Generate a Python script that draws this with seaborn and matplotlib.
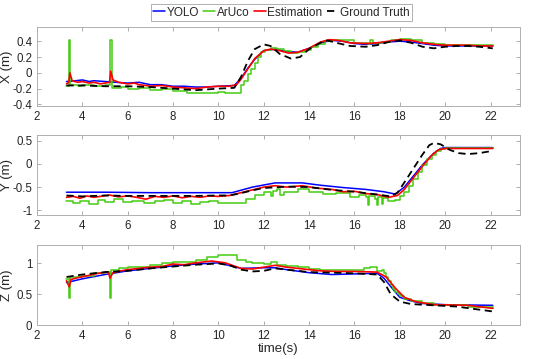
import matplotlib
matplotlib.use("Agg")
import matplotlib.pyplot as plt
import pandas as pd
import seaborn as sns
import numpy as np

# ---- X position (m) ----
x_gt_t = [3.3, 4.0, 5.0, 6.0, 7.0, 8.0, 8.5, 9.0, 9.5, 10.0, 10.7, 11.0, 11.3, 11.6, 12.0, 12.3, 12.7,
          13.2, 13.6, 14.0, 14.5, 14.8, 15.2, 15.8, 16.5, 17.0, 17.5, 18.0, 18.5, 19.0, 19.5, 20.0,
          20.5, 21.0, 21.5, 22.1]
x_gt = [-0.16, -0.16, -0.17, -0.17, -0.18, -0.2, -0.21, -0.22, -0.21, -0.2, -0.19, -0.05, 0.15, 0.3,
        0.36, 0.34, 0.24, 0.18, 0.2, 0.3, 0.38, 0.41, 0.38, 0.34, 0.33, 0.35, 0.39, 0.41, 0.38, 0.33,
        0.31, 0.33, 0.34, 0.34, 0.33, 0.31]

x_est_t = [3.3, 3.4, 3.45, 3.55, 3.8, 4.0, 4.3, 4.5, 4.8, 5.0, 5.2, 5.25, 5.35, 5.6, 6.0, 6.3, 6.5, 6.8,
           7.0, 7.5, 8.0, 8.5, 9.0, 9.5, 10.0, 10.5, 10.8, 11.0, 11.3, 11.6, 12.0, 12.3, 12.7, 13.1,
           13.5, 14.0, 14.5, 14.9, 15.3, 15.8, 16.5, 17.0, 17.5, 18.0, 18.5, 19.0, 19.5, 20.0, 20.5,
           21.0, 21.5, 22.1]
x_est = [-0.14, -0.12, 0.0, -0.1, -0.12, -0.11, -0.13, -0.12, -0.14, -0.13, -0.12, 0.02, -0.09, -0.12,
         -0.14, -0.13, -0.15, -0.16, -0.17, -0.16, -0.18, -0.19, -0.2, -0.18, -0.17, -0.17, -0.15,
         -0.08, 0.05, 0.18, 0.28, 0.3, 0.28, 0.25, 0.26, 0.31, 0.39, 0.42, 0.41, 0.38, 0.37, 0.38,
         0.4, 0.42, 0.41, 0.38, 0.36, 0.35, 0.35, 0.35, 0.34, 0.34]

x_yolo_t = [3.3, 3.7, 4.0, 4.3, 4.5, 5.0, 5.5, 6.0, 6.5, 7.0, 7.5, 8.0, 8.5, 9.0, 9.5, 10.0, 10.7, 11.0,
            11.3, 11.6, 12.0, 12.5, 13.0, 13.5, 14.0, 14.5, 15.0, 15.5, 16.0, 16.5, 17.0, 17.5, 18.0,
            18.5, 19.0, 19.5, 20.0, 21.0, 22.1]
x_yolo = [-0.11, -0.1, -0.09, -0.11, -0.1, -0.11, -0.12, -0.13, -0.12, -0.15, -0.15, -0.17, -0.17,
          -0.18, -0.18, -0.17, -0.16, -0.07, 0.06, 0.17, 0.28, 0.3, 0.27, 0.26, 0.31, 0.38, 0.41, 0.4,
          0.37, 0.36, 0.37, 0.39, 0.4, 0.39, 0.37, 0.35, 0.34, 0.34, 0.34]

x_aruco_t = [3.3, 3.42, 3.47, 3.8, 4.0, 4.5, 5.0, 5.2, 5.3, 5.7, 6.0, 6.5, 7.0, 7.5, 8.0, 8.6, 9.0,
             9.5, 10.0, 10.3, 10.8, 11.0, 11.15, 11.3, 11.45, 11.6, 11.75, 11.9, 12.05, 12.3, 12.6,
             12.9, 13.2, 13.5, 13.8, 14.1, 14.4, 14.7, 15.0, 15.5, 16.0, 16.6, 16.7, 16.8, 17.2, 17.6,
             18.0, 18.5, 19.0, 19.5, 20.0, 21.0, 22.1]
x_aruco = [-0.17, 0.42, -0.15, -0.17, -0.16, -0.17, -0.16, 0.42, -0.19, -0.18, -0.2, -0.19, -0.22,
           -0.21, -0.23, -0.26, -0.25, -0.26, -0.24, -0.25, -0.25, -0.15, -0.1, -0.02, 0.05, 0.12,
           0.2, 0.26, 0.29, 0.31, 0.3, 0.27, 0.25, 0.26, 0.29, 0.33, 0.37, 0.4, 0.42, 0.41, 0.38,
           0.37, 0.41, 0.38, 0.39, 0.41, 0.43, 0.41, 0.38, 0.36, 0.35, 0.35, 0.34]

# ---- Y position (m) ----
y_gt_t = [3.3, 4.0, 5.0, 6.0, 7.0, 8.0, 9.0, 10.0, 10.5, 11.0, 11.5, 12.0, 13.0, 14.0, 15.0, 16.0,
          17.0, 17.6, 17.9, 18.2, 18.6, 19.0, 19.3, 19.5, 19.8, 20.2, 20.6, 21.0, 21.5, 22.1]
y_gt = [-0.68, -0.7, -0.68, -0.69, -0.69, -0.69, -0.69, -0.68, -0.68, -0.63, -0.57, -0.52, -0.49,
        -0.5, -0.56, -0.6, -0.66, -0.7, -0.62, -0.4, -0.1, 0.2, 0.4, 0.45, 0.42, 0.3, 0.23, 0.21,
        0.23, 0.28]

y_est_t = [3.3, 3.6, 3.9, 4.2, 4.5, 4.8, 5.2, 5.6, 6.0, 6.4, 6.8, 7.2, 7.6, 8.0, 8.4, 8.8, 9.2, 9.6,
           10.0, 10.5, 11.0, 11.5, 12.0, 12.5, 13.0, 13.7, 14.3, 15.0, 15.5, 16.0, 16.5, 17.0, 17.5,
           17.9, 18.2, 18.6, 19.0, 19.4, 19.7, 20.0, 21.0, 22.1]
y_est = [-0.72, -0.7, -0.74, -0.69, -0.72, -0.7, -0.67, -0.71, -0.69, -0.72, -0.76, -0.7, -0.72,
         -0.69, -0.73, -0.7, -0.72, -0.69, -0.7, -0.68, -0.62, -0.56, -0.5, -0.47, -0.5, -0.47,
         -0.52, -0.55, -0.6, -0.59, -0.64, -0.66, -0.72, -0.68, -0.55, -0.3, -0.05, 0.18, 0.3, 0.33,
         0.33, 0.33]

y_yolo_t = [3.3, 5.0, 7.0, 9.0, 10.6, 11.5, 12.5, 13.7, 14.5, 15.5, 16.5, 17.3, 17.8, 18.2, 18.5,
            19.0, 19.5, 19.8, 20.0, 22.1]
y_yolo = [-0.61, -0.61, -0.62, -0.62, -0.62, -0.5, -0.41, -0.41, -0.46, -0.51, -0.55, -0.6, -0.65,
          -0.5, -0.32, -0.02, 0.23, 0.33, 0.35, 0.35]

y_aruco_t = [3.3, 3.6, 3.9, 4.3, 4.7, 5.0, 5.4, 5.8, 6.2, 6.7, 7.2, 7.6, 8.0, 8.4, 8.8, 9.2, 9.6,
             10.0, 10.4, 10.8, 11.2, 11.6, 12.0, 12.3, 12.4, 12.6, 12.7, 12.9, 13.5, 14.0, 14.6,
             15.2, 15.8, 16.2, 16.5, 16.6, 16.65, 16.9, 17.0, 17.05, 17.2, 17.25, 17.5, 17.8, 18.0,
             18.2, 18.4, 18.6, 18.8, 19.0, 19.2, 19.4, 19.6, 19.8, 20.0, 22.1]
y_aruco = [-0.8, -0.85, -0.8, -0.86, -0.78, -0.82, -0.76, -0.83, -0.8, -0.84, -0.8, -0.78, -0.84,
           -0.8, -0.86, -0.82, -0.8, -0.85, -0.84, -0.85, -0.75, -0.68, -0.6, -0.7, -0.58, -0.55,
           -0.68, -0.6, -0.55, -0.6, -0.65, -0.62, -0.72, -0.68, -0.72, -0.88, -0.7, -0.75, -0.88,
           -0.72, -0.86, -0.74, -0.8, -0.78, -0.7, -0.6, -0.48, -0.33, -0.18, -0.03, 0.1, 0.2, 0.27,
           0.31, 0.33, 0.33]

# ---- Z position (m) ----
z_gt_t = [3.3, 4.0, 5.0, 6.0, 7.0, 8.0, 9.0, 10.0, 10.5, 11.0, 11.5, 12.0, 12.5, 13.0, 14.0, 15.0,
          16.0, 17.0, 17.3, 17.6, 18.0, 18.5, 19.5, 20.5, 21.5, 22.1]
z_gt = [0.78, 0.82, 0.86, 0.88, 0.92, 0.95, 0.98, 1.0, 0.97, 0.9, 0.87, 0.88, 0.92, 0.9, 0.86,
        0.85, 0.84, 0.82, 0.7, 0.5, 0.38, 0.34, 0.32, 0.3, 0.25, 0.22]

z_est_t = [3.3, 3.42, 3.5, 3.7, 4.2, 4.7, 5.15, 5.22, 5.35, 5.7, 6.0, 6.5, 7.0, 7.5, 8.0, 8.5, 9.0,
           9.7, 10.3, 11.0, 11.5, 12.0, 12.5, 13.0, 13.5, 14.5, 15.2, 16.0, 17.0, 17.4, 17.8, 18.2,
           18.7, 19.5, 21.0, 22.1]
z_est = [0.72, 0.62, 0.74, 0.76, 0.8, 0.84, 0.86, 0.76, 0.85, 0.88, 0.9, 0.92, 0.94, 0.95, 0.99, 0.98,
         1.01, 1.04, 1.01, 0.92, 0.91, 0.94, 0.97, 0.94, 0.92, 0.88, 0.87, 0.87, 0.86, 0.78, 0.6,
         0.45, 0.38, 0.33, 0.32, 0.27]

z_yolo_t = [3.3, 4.0, 5.0, 6.0, 7.0, 8.0, 9.0, 10.0, 11.0, 12.0, 12.5, 13.0, 14.0, 15.0, 16.0, 17.0,
            17.3, 17.7, 18.0, 18.5, 19.0, 20.0, 22.1]
z_yolo = [0.69, 0.75, 0.82, 0.88, 0.92, 0.96, 0.99, 1.01, 0.92, 0.93, 0.93, 0.9, 0.85, 0.82, 0.83,
          0.84, 0.76, 0.58, 0.45, 0.39, 0.35, 0.33, 0.32]

z_aruco_t = [3.3, 3.42, 3.47, 4.0, 4.5, 5.0, 5.2, 5.28, 5.6, 6.0, 6.5, 7.0, 7.5, 8.0, 8.5, 9.0, 9.5,
             10.0, 10.8, 11.2, 11.5, 12.0, 12.3, 12.6, 13.0, 13.5, 14.0, 14.5, 15.0, 15.5, 16.0,
             16.4, 16.7, 17.0, 17.2, 17.3, 17.4, 17.5, 17.6, 17.7, 17.8, 17.9, 18.0, 18.2, 18.5,
             19.0, 19.5, 20.0, 21.0, 22.1]
z_aruco = [0.75, 0.44, 0.78, 0.8, 0.84, 0.86, 0.44, 0.9, 0.92, 0.94, 0.95, 0.97, 1.0, 1.02, 1.03, 1.06,
           1.1, 1.13, 1.06, 1.02, 1.0, 0.99, 1.03, 0.98, 0.96, 0.94, 0.91, 0.9, 0.89, 0.9, 0.9, 0.92,
           0.95, 0.88, 0.9, 0.84, 0.78, 0.72, 0.65, 0.59, 0.54, 0.5, 0.47, 0.43, 0.39, 0.35, 0.33,
           0.32, 0.3, 0.27]

series = {
    "X (m)": [(x_yolo_t, x_yolo), (x_aruco_t, x_aruco), (x_est_t, x_est), (x_gt_t, x_gt)],
    "Y (m)": [(y_yolo_t, y_yolo), (y_aruco_t, y_aruco), (y_est_t, y_est), (y_gt_t, y_gt)],
    "Z (m)": [(z_yolo_t, z_yolo), (z_aruco_t, z_aruco), (z_est_t, z_est), (z_gt_t, z_gt)],
}
labels = ["YOLO", "ArUco", "Estimation", "Ground Truth"]
ylims = {"X (m)": (-0.42, 0.58), "Y (m)": (-1.1, 0.62), "Z (m)": (0, 1.3)}
yticks = {"X (m)": [-0.4, -0.2, 0, 0.2, 0.4], "Y (m)": [-1, -0.5, 0, 0.5], "Z (m)": [0, 0.5, 1]}

sns.set_style("ticks")
plt.rcParams["font.family"] = ["Liberation Sans", "DejaVu Sans"]

fig = plt.figure(figsize=(5.5, 3.59), dpi=100)
left, width = 37 / 550, 483 / 550
boxes = [(27, 106), (135, 215), (245, 325)]

styles = [
    dict(color="#0000ff", linewidth=1.1),
    dict(color="#44cc11", linewidth=1.1, drawstyle="steps-post"),
    dict(color="#ff0000", linewidth=1.2),
    dict(color="black", linewidth=1.3, linestyle=(0, (4, 2.5))),
]

for i, (name, data) in enumerate(series.items()):
    top, bot = boxes[i]
    ax = fig.add_axes([left, 1 - bot / 359, width, (bot - top) / 359])
    for (t, v), lab, st in zip(data, labels, styles):
        df = pd.DataFrame({"t": t, "v": v})
        sns.lineplot(data=df, x="t", y="v", ax=ax, label=lab, estimator=None, sort=False, **st)
    ax.set_xlim(2, 23.3)
    ax.set_ylim(*ylims[name])
    ax.set_xticks(range(2, 23, 2))
    ax.set_yticks(yticks[name])
    ax.set_yticklabels([f"{v:g}" for v in yticks[name]])
    ax.set_ylabel(name, fontsize=9.5)
    ax.yaxis.set_label_coords(-0.049, 0.5)
    ax.set_xlabel("time(s)" if i == 2 else "", fontsize=9.5, labelpad=1)
    ax.tick_params(direction="in", length=3, width=0.6, top=True, right=True,
                   labelsize=8.3, colors="#a0a0a0", labelcolor="#262626", pad=3.5)
    for sp in ax.spines.values():
        sp.set_visible(True)
        sp.set_color("#b0b0b0")
        sp.set_linewidth(0.7)
    if i == 0:
        handles, labs = ax.get_legend_handles_labels()
    ax.get_legend().remove()

leg = fig.legend(handles, labs, loc="upper center", bbox_to_anchor=(0.512, 0.995), ncol=4,
                 fontsize=8.5, handlelength=1.0, handletextpad=0.15, columnspacing=0.35,
                 borderpad=0.2, borderaxespad=0.2, fancybox=False, framealpha=1)
leg.get_frame().set_edgecolor("#b0b0b0")
leg.get_frame().set_linewidth(0.7)

fig.savefig("out.png", dpi=100)
